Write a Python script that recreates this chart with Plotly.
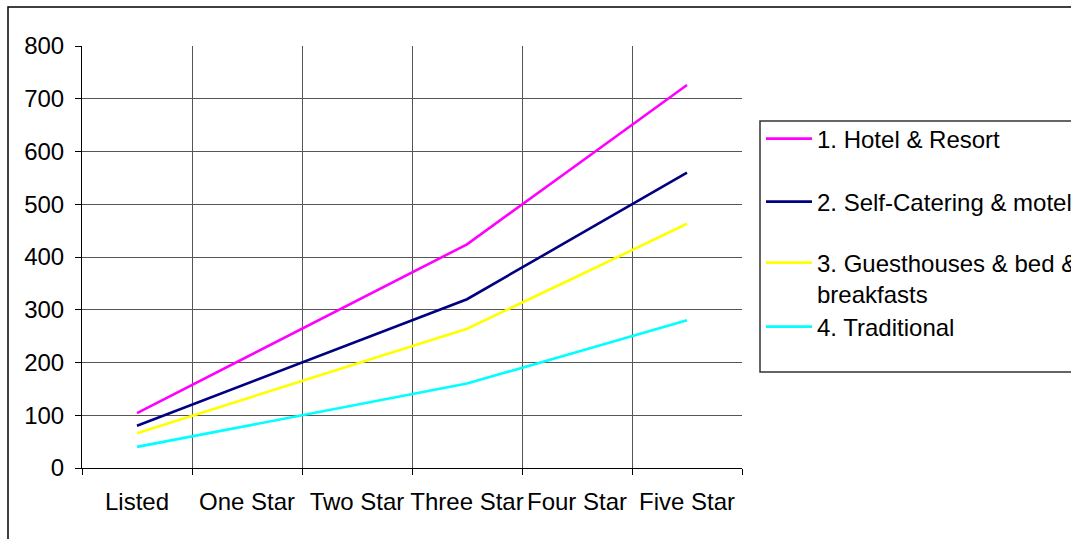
import plotly.graph_objects as go

# Accommodation grading categories (x axis)
categories = ["Listed", "One Star", "Two Star", "Three Star", "Four Star", "Five Star"]

# Series values per category
hotel_resort = [104, 211, 317, 424, 575, 726]
self_catering = [80, 160, 240, 320, 440, 560]
guesthouses = [66, 132, 198, 264, 363, 463]
traditional = [40, 80, 120, 160, 220, 280]

series_names = [
    "1. Hotel & Resort",
    "2. Self-Catering & motels",
    "3. Guesthouses & bed &<br>breakfasts",
    "4. Traditional",
]
series_values = [hotel_resort, self_catering, guesthouses, traditional]
series_colors = ["#FF00FF", "#000080", "#FFFF00", "#00FFFF"]

y_ticks = [0, 100, 200, 300, 400, 500, 600, 700, 800]

W, H = 1071, 539
L, R, T, B = 82, 742, 46, 468

FONT = dict(family="Arial, Liberation Sans, sans-serif", size=24, color="#000000")


def px(pix):
    # horizontal pixel -> plot-area paper fraction
    return (pix - L) / (R - L)


def py(pix):
    # vertical pixel (from top) -> plot-area paper fraction
    return (B - pix) / (B - T)


fig = go.Figure()
legend_keys = ["legend", "legend2", "legend3", "legend4"]
for name, vals, col, lg in zip(series_names, series_values, series_colors, legend_keys):
    fig.add_trace(go.Scatter(
        x=categories, y=vals, name=name, mode="lines",
        line=dict(color=col, width=2.6),
        legend=lg,
    ))

# Legend entry vertical positions (pixel centres, top-down)
legend_y_px = [139, 202, 278.5, 327]

layout_legends = {}
for lg, ypix in zip(legend_keys, legend_y_px):
    layout_legends[lg] = dict(
        x=px(761), y=py(ypix), xanchor="left", yanchor="middle",
        xref="paper", yref="paper",
        bgcolor="rgba(0,0,0,0)", borderwidth=0,
        font=FONT, itemwidth=46, tracegroupgap=0,
        valign="top",
    )

fig.update_layout(
    width=W, height=H,
    margin=dict(l=L, r=W - R, t=T, b=H - B, pad=0, autoexpand=False),
    paper_bgcolor="#FFFFFF", plot_bgcolor="#FFFFFF",
    font=FONT,
    showlegend=True,
    **layout_legends,
)

fig.update_xaxes(
    type="category", range=[-0.5, 5.5],
    tickson="boundaries", ticks="outside", ticklen=6, tickcolor="#000000",
    showgrid=True, gridcolor="#555555", gridwidth=1,
    showline=True, linecolor="#000000", linewidth=1,
    tickfont=FONT, tickangle=0, ticklabelstandoff=12,
    zeroline=False, automargin=False,
)
fig.update_yaxes(
    range=[0, 800], tickvals=y_ticks,
    ticks="outside", ticklen=6, tickcolor="#000000",
    showgrid=True, gridcolor="#555555", gridwidth=1,
    showline=True, linecolor="#000000", linewidth=1,
    tickfont=FONT, ticklabelstandoff=6,
    zeroline=False, automargin=False,
)

# Legend frame and outer chart frame
fig.add_shape(type="rect", xref="paper", yref="paper",
              x0=px(760), x1=px(1090), y0=py(372), y1=py(121),
              line=dict(color="#333333", width=1.5), fillcolor="rgba(0,0,0,0)",
              layer="below")
fig.add_shape(type="rect", xref="paper", yref="paper",
              x0=px(8), x1=px(1090), y0=py(560), y1=py(7),
              line=dict(color="#000000", width=1.5), fillcolor="rgba(0,0,0,0)",
              layer="below")

fig.write_html("out.html")
